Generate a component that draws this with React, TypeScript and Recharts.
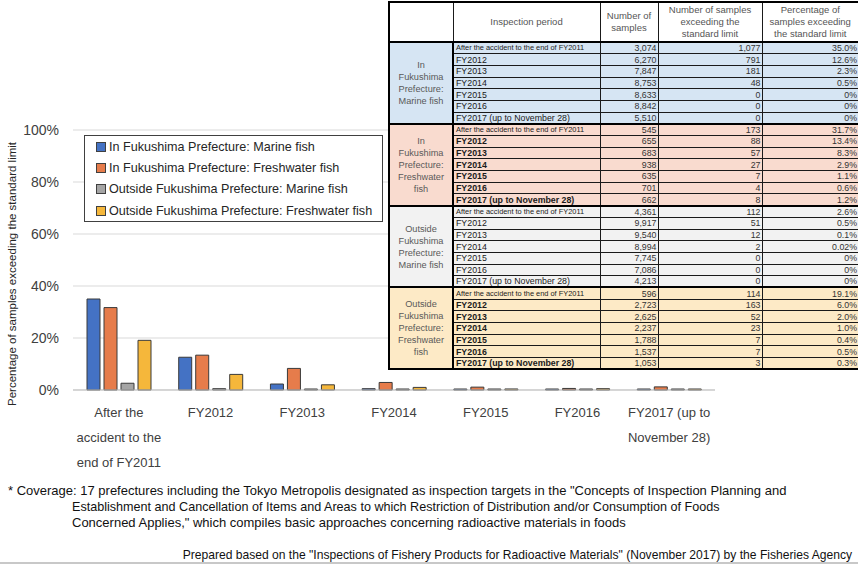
import React from 'react';
import { BarChart, Bar, XAxis, YAxis, CartesianGrid, Legend } from 'recharts';

const periods = [
  'After the accident to the end of FY2011',
  'FY2012',
  'FY2013',
  'FY2014',
  'FY2015',
  'FY2016',
  'FY2017 (up to November 28)',
];
const categoryLabels = [
  'After the\naccident to the\nend of FY2011',
  'FY2012',
  'FY2013',
  'FY2014',
  'FY2015',
  'FY2016',
  'FY2017 (up to\nNovember 28)',
];

const seriesNames = [
  'In Fukushima Prefecture: Marine fish',
  'In Fukushima Prefecture: Freshwater fish',
  'Outside Fukushima Prefecture: Marine fish',
  'Outside Fukushima Prefecture: Freshwater fish',
];

// table values
const inMarineSamples = [3074, 6270, 7847, 8753, 8633, 8842, 5510];
const inMarineExceeding = [1077, 791, 181, 48, 0, 0, 0];
const inMarinePct = [35.0, 12.6, 2.3, 0.5, 0, 0, 0];

const inFreshSamples = [545, 655, 683, 938, 635, 701, 662];
const inFreshExceeding = [173, 88, 57, 27, 7, 4, 8];
const inFreshPct = [31.7, 13.4, 8.3, 2.9, 1.1, 0.6, 1.2];

const outMarineSamples = [4361, 9917, 9540, 8994, 7745, 7086, 4213];
const outMarineExceeding = [112, 51, 12, 2, 0, 0, 0];
const outMarinePct = [2.6, 0.5, 0.1, 0.02, 0, 0, 0];

const outFreshSamples = [596, 2723, 2625, 2237, 1788, 1537, 1053];
const outFreshExceeding = [114, 163, 52, 23, 7, 7, 3];
const outFreshPct = [19.1, 6.0, 2.0, 1.0, 0.4, 0.5, 0.3];

const yTicks = [0, 20, 40, 60, 80, 100];

const colors = ['#4472C4', '#E67C4B', '#A5A5A5', '#F5B73B'];
const FONT = '"Liberation Sans", Arial, sans-serif';

const chartData = categoryLabels.map((label, i) => ({
  label,
  s0: inMarinePct[i],
  s1: inFreshPct[i],
  s2: outMarinePct[i],
  s3: outFreshPct[i],
}));

const groups = [
  { name: ['In', 'Fukushima', 'Prefecture:', 'Marine fish'], bg: '#D6E5F3', bold: false, samples: inMarineSamples, exceeding: inMarineExceeding, pct: inMarinePct },
  { name: ['In', 'Fukushima', 'Prefecture:', 'Freshwater', 'fish'], bg: '#F9DBCF', bold: true, samples: inFreshSamples, exceeding: inFreshExceeding, pct: inFreshPct },
  { name: ['Outside', 'Fukushima', 'Prefecture:', 'Marine fish'], bg: '#F2F2F2', bold: false, samples: outMarineSamples, exceeding: outMarineExceeding, pct: outMarinePct },
  { name: ['Outside', 'Fukushima', 'Prefecture:', 'Freshwater', 'fish'], bg: '#FDEAC6', bold: true, samples: outFreshSamples, exceeding: outFreshExceeding, pct: outFreshPct },
];

const fmtPct = (v: number) => (v === 0 ? '0%' : v < 0.1 ? v.toFixed(2) + '%' : v.toFixed(1) + '%');

const CategoryTick = (props: any) => {
  const { x, y, payload } = props;
  const lines = String(payload.value).split('\n');
  return (
    <text x={x} y={y} textAnchor="middle" fontSize={13} fill="#404040" fontFamily={FONT}>
      {lines.map((l, i) => (
        <tspan key={i} x={x} dy={i === 0 ? 18.5 : 25}>
          {l}
        </tspan>
      ))}
    </text>
  );
};

const renderLegend = () => (
  <div
    style={{
      border: '1px solid #404040',
      background: '#fff',
      width: 297,
      fontFamily: FONT,
      fontSize: 12.6,
      color: '#262626',
    }}
  >
    {seriesNames.map((n, i) => (
      <div key={n} style={{ display: 'flex', alignItems: 'center', height: 21.3, paddingLeft: 11 }}>
        <span
          style={{
            display: 'inline-block',
            width: 8,
            height: 8,
            background: colors[i],
            border: '1px solid #404040',
            marginRight: 3,
          }}
        />
        <span style={{ whiteSpace: 'nowrap' }}>{n}</span>
      </div>
    ))}
  </div>
);

const cell: React.CSSProperties = {
  border: '1px solid #1a1a1a',
  padding: 0,
  overflow: 'hidden',
  whiteSpace: 'nowrap',
};

function DataTable() {
  const headStyle: React.CSSProperties = {
    ...cell,
    borderBottom: '2px solid #000',
    color: '#555',
    fontSize: 9.5,
    lineHeight: '12px',
    textAlign: 'center',
    whiteSpace: 'normal',
    fontWeight: 'normal',
  };
  return (
    <table
      style={{
        position: 'absolute',
        left: 388,
        top: 1,
        width: 470,
        tableLayout: 'fixed',
        borderCollapse: 'collapse',
        border: '2px solid #000',
        fontFamily: FONT,
        background: '#fff',
      }}
    >
      <colgroup>
        <col style={{ width: 64 }} />
        <col style={{ width: 147 }} />
        <col style={{ width: 58 }} />
        <col style={{ width: 104 }} />
        <col style={{ width: 97 }} />
      </colgroup>
      <thead>
        <tr style={{ height: 40 }}>
          <th style={headStyle} />
          <th style={headStyle}>Inspection period</th>
          <th style={headStyle}>
            Number of
            <br />
            samples
          </th>
          <th style={headStyle}>
            Number of samples
            <br />
            exceeding the
            <br />
            standard limit
          </th>
          <th style={headStyle}>
            Percentage of
            <br />
            samples exceeding
            <br />
            the standard limit
          </th>
        </tr>
      </thead>
      <tbody>
        {groups.map((g) =>
          periods.map((p, i) => {
            const top = i === 0 ? '2px solid #000' : '1px solid #1a1a1a';
            const base: React.CSSProperties = { ...cell, borderTop: top, background: g.bg, lineHeight: '10px' };
            const num: React.CSSProperties = { ...base, textAlign: 'right', fontSize: 8.8, color: '#333', paddingRight: 1 };
            return (
              <tr key={g.name.join() + p} style={{ height: 11.7 }}>
                {i === 0 && (
                  <td
                    rowSpan={7}
                    style={{
                      ...base,
                      textAlign: 'center',
                      color: '#595959',
                      fontSize: 9.2,
                      lineHeight: '12px',
                      borderTop: '2px solid #000',
                      borderRight: '2px solid #000',
                    }}
                  >
                    {g.name.map((n) => (
                      <div key={n}>{n}</div>
                    ))}
                  </td>
                )}
                <td
                  style={{
                    ...base,
                    paddingLeft: 2,
                    fontSize: i === 0 ? 7.4 : 8.8,
                    color: '#1a1a1a',
                    fontWeight: g.bold && i > 0 ? 'bold' : 'normal',
                  }}
                >
                  {p}
                </td>
                <td style={num}>{g.samples[i].toLocaleString('en-US')}</td>
                <td style={num}>{g.exceeding[i].toLocaleString('en-US')}</td>
                <td style={num}>{fmtPct(g.pct[i])}</td>
              </tr>
            );
          })
        )}
      </tbody>
    </table>
  );
}

const yTitle = 'Percentage of samples exceeding the standard limit';

const noteStyle: React.CSSProperties = {
  position: 'absolute',
  lineHeight: '16px',
  color: '#111',
  whiteSpace: 'nowrap',
};

export default function App() {
  return (
    <div
      style={{
        position: 'absolute',
        left: 0,
        top: 0,
        width: 858,
        height: 565,
        background: '#fff',
        overflow: 'hidden',
        fontFamily: FONT,
      }}
    >
      <BarChart
        width={858}
        height={565}
        data={chartData}
        margin={{ top: 130, right: 143, left: 13, bottom: 95 }}
        barSize={13}
        barGap={4}
      >
        <CartesianGrid vertical={false} stroke="#D9D9D9" yAxisId="l" />
        <XAxis
          dataKey="label"
          height={80}
          axisLine={{ stroke: '#BFBFBF' }}
          tickLine={false}
          interval={0}
          tick={<CategoryTick />}
        />
        <YAxis
          yAxisId="l"
          width={60}
          domain={[0, 100]}
          ticks={yTicks}
          tickFormatter={(v) => v + '%'}
          axisLine={false}
          tickLine={false}
          tickMargin={8}
          tick={{ fontSize: 14, fill: '#404040', fontFamily: FONT }}
          label={{
            content: () => (
              <text
                x={16}
                y={274}
                transform="rotate(-90 16 274)"
                textAnchor="middle"
                fontSize={11.5}
                fill="#262626"
                fontFamily={FONT}
              >
                {yTitle}
              </text>
            ),
          }}
        />
        <YAxis yAxisId="r" orientation="right" width={0} domain={[0, 100]} tick={false} tickLine={false} axisLine={{ stroke: '#404040' }} />
        <Legend
          layout="vertical"
          verticalAlign="middle"
          align="center"
          wrapperStyle={{ left: 84, top: 135, width: 299 }}
          content={renderLegend}
        />
        {seriesNames.map((n, i) => (
          <Bar
            key={n}
            yAxisId="l"
            dataKey={'s' + i}
            name={n}
            fill={colors[i]}
            stroke="#3a3a3a"
            strokeWidth={1}
            minPointSize={1}
            isAnimationActive={false}
          />
        ))}
      </BarChart>

      <DataTable />

      <div style={{ ...noteStyle, left: 8, top: 483, fontSize: 13 }}>
        * Coverage: 17 prefectures including the Tokyo Metropolis designated as inspection targets in the "Concepts of Inspection Planning and
      </div>
      <div style={{ ...noteStyle, left: 72, top: 499, fontSize: 12.6 }}>
        Establishment and Cancellation of Items and Areas to which Restriction of Distribution and/or Consumption of Foods
      </div>
      <div style={{ ...noteStyle, left: 72, top: 515, fontSize: 13 }}>
        Concerned Applies," which compiles basic approaches concerning radioactive materials in foods
      </div>
      <div style={{ ...noteStyle, right: 6, top: 547, fontSize: 12.1 }}>
        Prepared based on the "Inspections of Fishery Products for Radioactive Materials" (November 2017) by the Fisheries Agency
      </div>
      <div style={{ position: 'absolute', left: 0, top: 562, width: 858, height: 2, background: '#C8C8C8' }} />
    </div>
  );
}
